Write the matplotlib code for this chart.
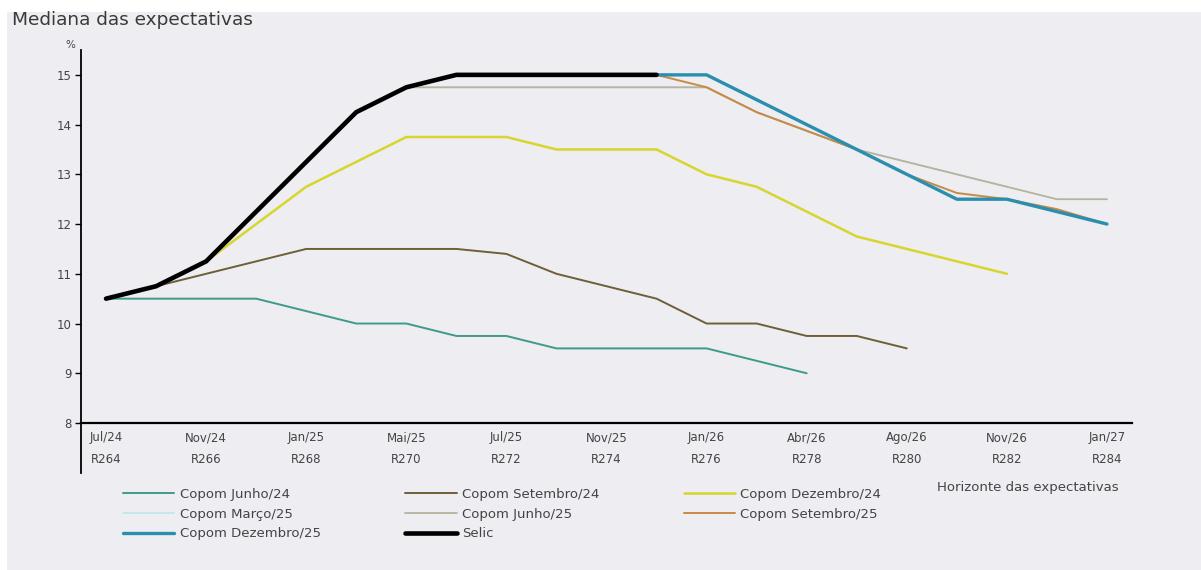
import matplotlib
matplotlib.use("Agg")
import matplotlib.pyplot as plt
import numpy as np
from matplotlib.patches import Rectangle

plt.rcParams["font.family"] = ["DejaVu Sans"]

# Reuniões do Copom no horizonte (eixo x)
reunioes = ["R264", "R265", "R266", "R267", "R268", "R269", "R270", "R271",
            "R272", "R273", "R274", "R275", "R276", "R277", "R278", "R279",
            "R280", "R281", "R282", "R283", "R284"]
tick_reunioes = ["R264", "R266", "R268", "R270", "R272", "R274",
                 "R276", "R278", "R280", "R282", "R284"]
tick_meses = ["Jul/24", "Nov/24", "Jan/25", "Mai/25", "Jul/25", "Nov/25",
              "Jan/26", "Abr/26", "Ago/26", "Nov/26", "Jan/27"]

# Medianas (% a.a.), cada série começa na reunião indicada
jun24_inicio = "R264"
jun24 = [10.5, 10.5, 10.5, 10.5, 10.25, 10.0, 10.0, 9.75, 9.75, 9.5, 9.5,
         9.5, 9.5, 9.25, 9.0]
set24_inicio = "R264"
set24 = [10.5, 10.75, 11.0, 11.25, 11.5, 11.5, 11.5, 11.5, 11.4, 11.0,
         10.75, 10.5, 10.0, 10.0, 9.75, 9.75, 9.5]
dez24_inicio = "R264"
dez24 = [10.5, 10.75, 11.25, 12.0, 12.75, 13.25, 13.75, 13.75, 13.75, 13.5,
         13.5, 13.5, 13.0, 12.75, 12.25, 11.75, 11.5, 11.25, 11.0]
mar25_inicio = "R269"
mar25 = [14.25, 14.75, 14.75, 14.75, 14.75, 14.75, 14.75, 14.75, 14.25,
         13.875, 13.5, 13.25, 13.0, 12.75]
jun25_inicio = "R270"
jun25 = [14.75, 14.75, 14.75, 14.75, 14.75, 14.75, 14.75, 14.25, 13.875,
         13.5, 13.25, 13.0, 12.75, 12.5, 12.5]
set25_inicio = "R273"
set25 = [15.0, 15.0, 15.0, 14.75, 14.25, 13.875, 13.5, 13.0, 12.625, 12.5,
         12.3, 12.0]
dez25_inicio = "R275"
dez25 = [15.0, 15.0, 14.5, 14.0, 13.5, 13.0, 12.5, 12.5, 12.25, 12.0]
selic_inicio = "R264"
selic = [10.5, 10.75, 11.25, 12.25, 13.25, 14.25, 14.75, 15.0, 15.0, 15.0,
         15.0, 15.0]

series = [
    ("Copom Março/25", mar25_inicio, mar25, "#bfe6e8", 1.2),
    ("Copom Junho/25", jun25_inicio, jun25, "#b7b39c", 1.3),
    ("Copom Setembro/25", set25_inicio, set25, "#c98a45", 1.4),
    ("Copom Junho/24", jun24_inicio, jun24, "#3f9a8a", 1.4),
    ("Copom Setembro/24", set24_inicio, set24, "#6f5f36", 1.4),
    ("Copom Dezembro/24", dez24_inicio, dez24, "#d6d62e", 1.8),
    ("Copom Dezembro/25", dez25_inicio, dez25, "#2a8fae", 2.4),
    ("Selic", selic_inicio, selic, "#000000", 3.3),
]

bg = "#ededf2"
fig = plt.figure(figsize=(12.01, 5.70), dpi=100, facecolor="white")
fig.patches.append(Rectangle((7 / 1201, 0), 1, (570 - 12) / 570,
                             transform=fig.transFigure, facecolor=bg,
                             edgecolor="none", zorder=-10))
ax = fig.add_axes([81 / 1201, (570 - 423) / 570, 1051 / 1201, 373 / 570])
ax.set_facecolor(bg)

handles = {}
for nome, inicio, valores, cor, lw in series:
    i0 = reunioes.index(inicio)
    x = np.arange(i0, i0 + len(valores))
    (h,) = ax.plot(x, valores, color=cor, lw=lw, solid_capstyle="round",
                   solid_joinstyle="round", label=nome)
    handles[nome] = h

ax.set_xlim(-0.5, 20.5)
ax.set_ylim(8, 15.5)
ax.set_yticks(range(8, 16))
ax.tick_params(axis="y", direction="out", length=4, width=1, labelsize=8.5,
               labelcolor="#444444", pad=3)
ax.set_xticks([reunioes.index(r) for r in tick_reunioes])
ax.set_xticklabels([f"{m}\n{r}" for m, r in zip(tick_meses, tick_reunioes)],
                   linespacing=1.9)
ax.tick_params(axis="x", length=0, labelsize=8.5, labelcolor="#444444", pad=6)
for s in ["top", "right"]:
    ax.spines[s].set_visible(False)
ax.spines["left"].set_linewidth(1.3)
ax.spines["bottom"].set_linewidth(1.6)
# eixo vertical prolongado abaixo do eixo x
ax.plot([-0.5, -0.5], [8, 7.0], color="black", lw=1.3, clip_on=False)

fig.text(12 / 1201, 1 - 20 / 570, "Mediana das expectativas", fontsize=13.3,
         color="#3a3a3a", va="center", ha="left")
fig.text(70 / 1201, 1 - 45 / 570, "%", fontsize=7.5, color="#444444",
         va="center", ha="center")
fig.text(1028 / 1201, 1 - 488 / 570, "Horizonte das expectativas",
         fontsize=9.5, color="#444444", va="center", ha="center")

ordem = ["Copom Junho/24", "Copom Março/25", "Copom Dezembro/25",
         "Copom Setembro/24", "Copom Junho/25", "Selic",
         "Copom Dezembro/24", "Copom Setembro/25"]
fig.legend([handles[n] for n in ordem], ordem, loc="upper left",
           bbox_to_anchor=(123 / 1201, 1 - 488 / 570), ncol=3, frameon=False,
           fontsize=9.5, handlelength=3.9, handletextpad=0.4,
           columnspacing=6.4, labelspacing=0.5, borderpad=0,
           borderaxespad=0, labelcolor="#444444")

fig.savefig("out.png", dpi=100, facecolor=fig.get_facecolor())
